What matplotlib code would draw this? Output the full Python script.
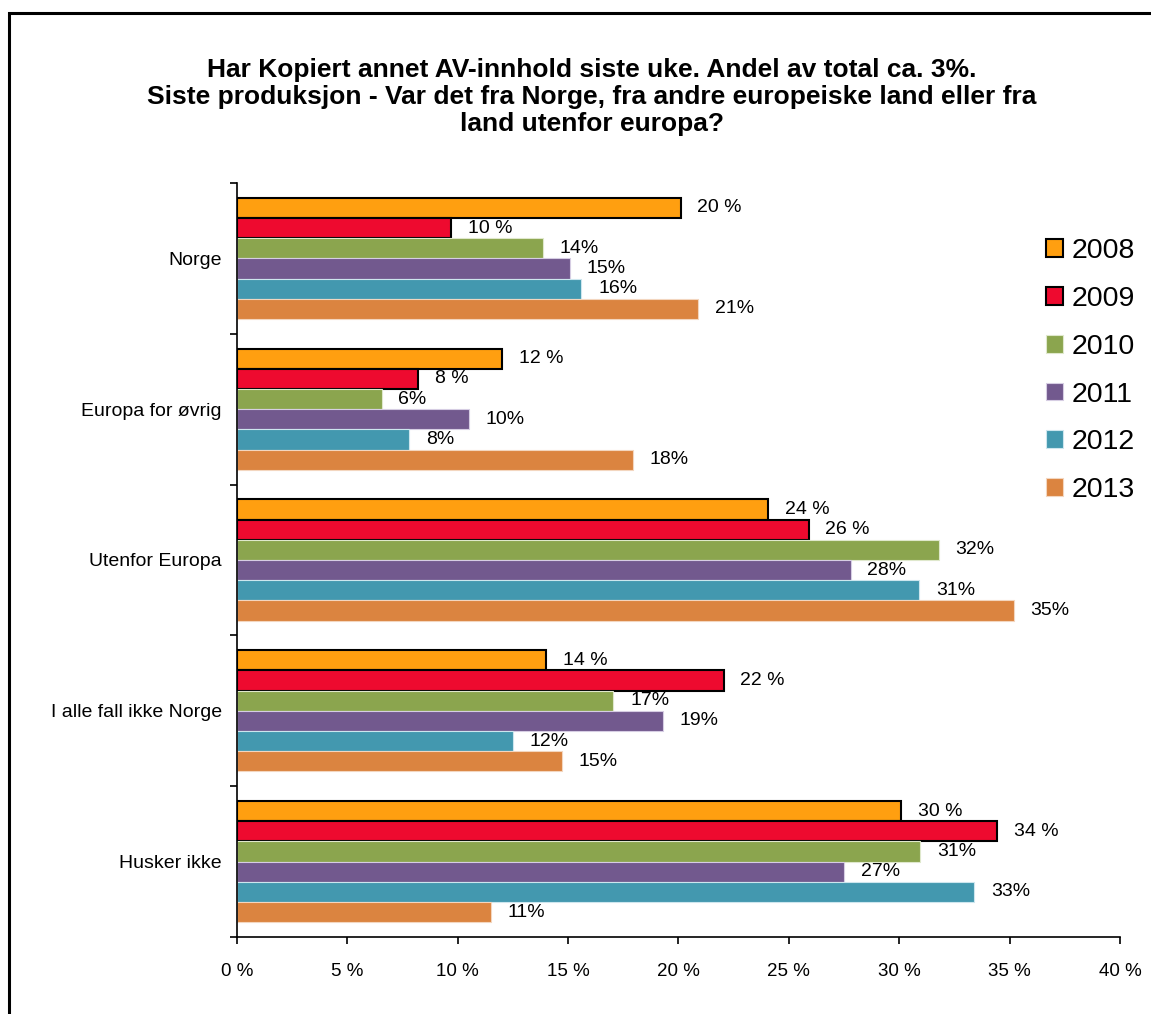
import matplotlib
matplotlib.use("Agg")
import matplotlib.pyplot as plt
import matplotlib.patches as mpatches
import numpy as np

plt.rcParams['font.family'] = ['Liberation Sans', 'DejaVu Sans']

categories = ["Norge", "Europa for øvrig", "Utenfor Europa", "I alle fall ikke Norge", "Husker ikke"]
years = ["2008", "2009", "2010", "2011", "2012", "2013"]

v2008 = [20.1, 12.0, 24.05, 14.0, 30.1]
v2009 = [9.7, 8.2, 25.9, 22.05, 34.45]
v2010 = [13.85, 6.55, 31.8, 17.05, 30.95]
v2011 = [15.1, 10.5, 27.8, 19.3, 27.5]
v2012 = [15.6, 7.8, 30.9, 12.5, 33.4]
v2013 = [20.9, 17.95, 35.2, 14.7, 11.5]

lab2008 = ["20 %", "12 %", "24 %", "14 %", "30 %"]
lab2009 = ["10 %", "8 %", "26 %", "22 %", "34 %"]
lab2010 = ["14%", "6%", "32%", "17%", "31%"]
lab2011 = ["15%", "10%", "28%", "19%", "27%"]
lab2012 = ["16%", "8%", "31%", "12%", "33%"]
lab2013 = ["21%", "18%", "35%", "15%", "11%"]

values = [v2008, v2009, v2010, v2011, v2012, v2013]
labels = [lab2008, lab2009, lab2010, lab2011, lab2012, lab2013]
colors = ["#FF9F10", "#EE0A2F", "#8BA54E", "#72598E", "#4398AF", "#DB8440"]
edges = ["black", "black", "#dfe8cc", "#d6cde3", "#cde6ee", "#f3d6bf"]
edge_w = [1.5, 1.5, 0.8, 0.8, 0.8, 0.8]

fig = plt.figure(figsize=(11.51, 10.14), dpi=100)
ax = fig.add_axes([237/1151, 1-937/1014, (1120-237)/1151, (937-183)/1014])

y = np.arange(len(categories))
h = 0.134
for i, (vals, labs) in enumerate(zip(values, labels)):
    pos = y + (i - 2.5) * h
    ax.barh(pos, vals, height=h, color=colors[i], edgecolor=edges[i],
            linewidth=edge_w[i], label=years[i])
    for p, v, t in zip(pos, vals, labs):
        ax.annotate(t, (v, p), xytext=(12, 0), textcoords='offset points',
                    va='center', ha='left', fontsize=14)

ax.set_xlim(0, 40)
ax.set_ylim(4.5, -0.5)
ax.set_xticks(np.arange(0, 41, 5))
ax.set_xticklabels([f"{t} %" for t in range(0, 41, 5)], fontsize=13.5)
ax.set_yticks(np.arange(-0.5, 5, 1))
ax.set_yticklabels([])
ax.set_yticks(y, minor=True)
ax.set_yticklabels(categories, minor=True, fontsize=14)
ax.tick_params(axis='y', which='minor', length=0, pad=11)
ax.tick_params(axis='both', which='major', length=5, width=1.2, direction='out')
ax.tick_params(axis='x', pad=14)
for s in ['top', 'right']:
    ax.spines[s].set_visible(False)
for s in ['left', 'bottom']:
    ax.spines[s].set_linewidth(1.2)

fig.legend(loc='upper left', bbox_to_anchor=(1032/1151, 1-224/1014), frameon=False,
           fontsize=20.5, handlelength=0.58, handleheight=0.58, handletextpad=0.3,
           labelspacing=0.765, borderpad=0)

fig.text(0.514, 1-97/1014,
         "Har Kopiert annet AV-innhold siste uke. Andel av total ca. 3%.\n"
         "Siste produksjon - Var det fra Norge, fra andre europeiske land eller fra\n"
         "land utenfor europa?",
         ha='center', va='center', fontsize=19, fontweight='bold', linespacing=1.17)

fig.patches.append(mpatches.Rectangle((9/1151, -0.1), 1.2, 1.1 - 13/1014,
                                      transform=fig.transFigure, fill=False,
                                      edgecolor='black', linewidth=2.2))

fig.savefig("out.png", dpi=100)
